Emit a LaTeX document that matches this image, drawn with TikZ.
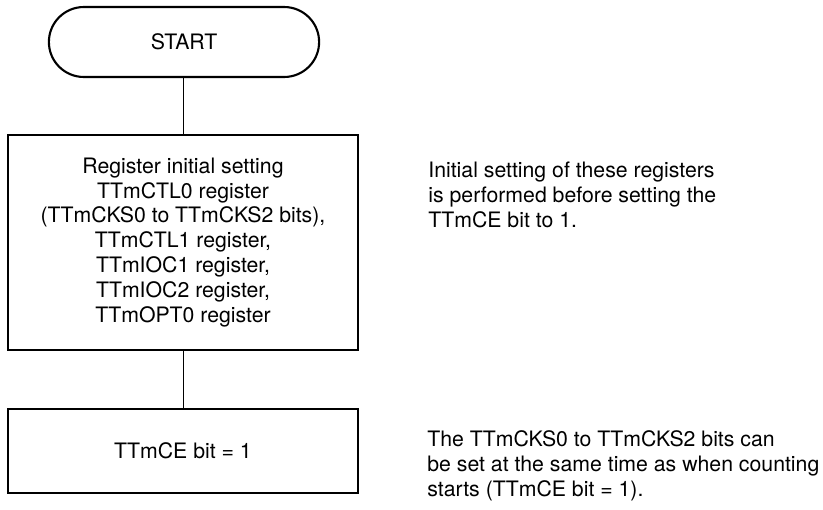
\documentclass[tikz,border=0pt]{standalone}
\usepackage{fontspec}
\setmainfont{TeX Gyre Heros}
\usepackage{tikz}
\usetikzlibrary{shapes.misc}

\begin{document}
\begin{tikzpicture}[x=0.02cm,y=-0.02cm,
    every node/.style={font=\fontsize{12.1}{14.2}\selectfont},
    terminal/.style={draw,line width=1.2pt,rounded rectangle,minimum width=5.64cm,minimum height=1.4cm},
    procbox/.style={draw,line width=1.2pt,rectangle,align=center,minimum width=7cm},
    remark/.style={anchor=west,align=left,inner sep=0pt},
    flowline/.style={line width=0.45pt}]
    \useasboundingbox (0,0) rectangle (823,510);

    \node[terminal] (start) at (184,42) {START};
    \node[procbox,minimum height=4.3cm] (init) at (183,242.5)
        {Register initial setting\\TTmCTL0 register\\(TTmCKS0 to TTmCKS2 bits),\\TTmCTL1 register,\\TTmIOC1 register,\\TTmIOC2 register,\\TTmOPT0 register};
    \node[procbox,minimum height=1.68cm] (enable) at (183,451) {TTmCE bit = 1};

    \draw[flowline] (start.south -| init.north) -- (init.north);
    \draw[flowline] (init.south) -- (enable.north);

    % remarks at the right
    \node[remark] (noteinit) at (428,195)
        {Initial setting of these registers\\is performed before setting the\\TTmCE bit to 1.};
    \node[remark] (notece) at (427,466)
        {The TTmCKS0 to TTmCKS2 bits can\\be set at the same time as when counting\\starts (TTmCE bit = 1).};
\end{tikzpicture}
\end{document}
